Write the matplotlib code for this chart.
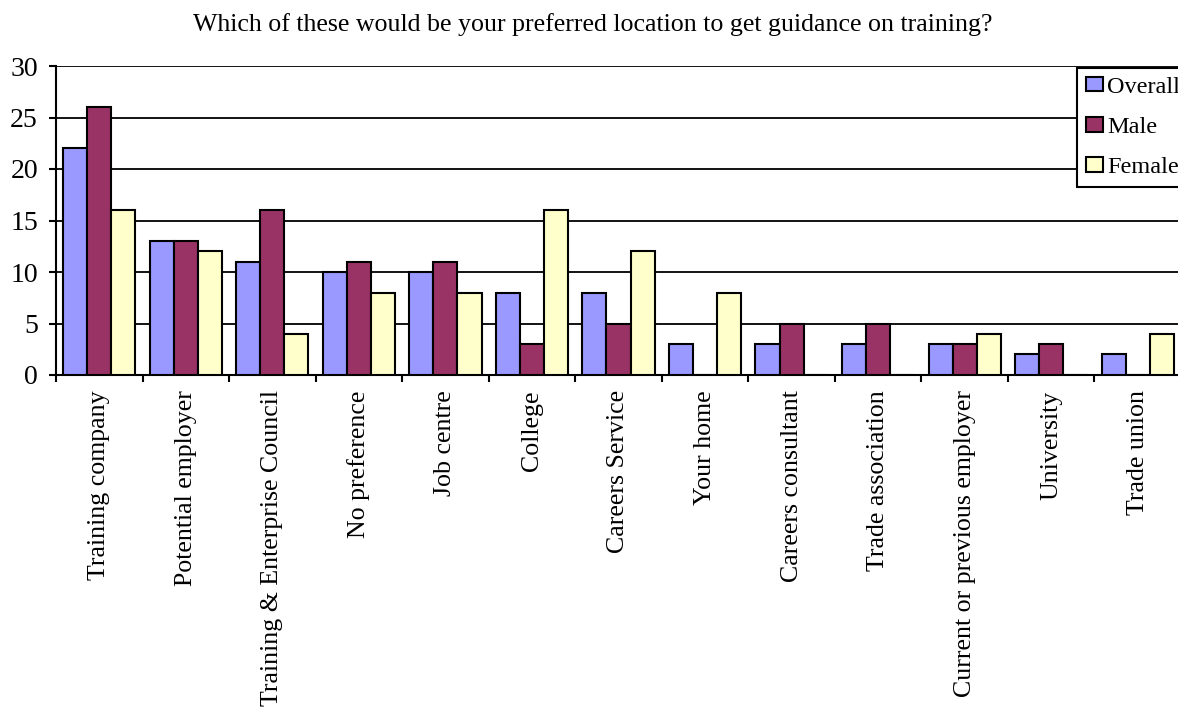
import numpy as np
import matplotlib.pyplot as plt

categories = ['Training company', 'Potential employer', 'Training & Enterprise Council',
              'No preference', 'Job centre', 'College', 'Careers Service', 'Your home',
              'Careers consultant', 'Trade association', 'Current or previous employer',
              'University', 'Trade union']
overall = [22, 13, 11, 10, 10, 8, 8, 3, 3, 3, 3, 2, 2]
male = [26, 13, 16, 11, 11, 3, 5, 0, 5, 5, 3, 3, 0]
female = [16, 12, 4, 8, 8, 16, 12, 8, 0, 0, 4, 0, 4]

plt.rcParams['font.family'] = 'Liberation Serif'
fs = 18.6

fig = plt.figure(figsize=(11.78, 7.08), dpi=100)
ax = fig.add_axes([56/1178, 1-375/708, 1125/1178, 309/708])

x = np.arange(len(categories))
w = 0.278
series = [('Overall', overall, '#9999FF'), ('Male', male, '#993366'), ('Female', female, '#FFFFCC')]
for i, (name, vals, col) in enumerate(series):
    ax.bar(x + (i - 1) * w, vals, w, color=col, edgecolor='black', linewidth=1.5, label=name, zorder=3)

ax.set_ylim(0, 30)
ax.set_xlim(-0.5, len(categories) - 0.5)
ax.set_yticks(range(0, 31, 5))
ax.yaxis.grid(True, color='black', linewidth=1.3, zorder=0)
ax.tick_params(axis='y', labelsize=20, length=5, width=1.5, direction='out', pad=8)

ax.set_xticks(x)
ax.set_xticklabels(categories, rotation=90, fontsize=fs)
ax.tick_params(axis='x', which='major', length=0, pad=11)
ax.set_xticks(x - 0.5, minor=True)
ax.tick_params(axis='x', which='minor', length=5, width=1.5, direction='out')

for s in ['right', 'top']:
    ax.spines[s].set_visible(False)
ax.spines['left'].set_linewidth(1.5)
ax.spines['bottom'].set_linewidth(1.5)

fig.text(593/1178, 1-25/708, 'Which of these would be your preferred location to get guidance on training?',
         ha='center', va='center', fontsize=fs)

# legend box runs off the right edge, text kept inside
leg = ax.legend(loc='upper left', bbox_to_anchor=(1077/1178, 1-68/708),
                bbox_transform=fig.transFigure, fontsize=17.5, frameon=True, fancybox=False,
                handlelength=0.7, handleheight=0.55, handletextpad=0.2, borderpad=0.35,
                borderaxespad=0, labelspacing=0.8)
leg.get_frame().set_edgecolor('black')
leg.get_frame().set_linewidth(1.5)
leg.get_frame().set_alpha(1)
leg.set_zorder(5)

fig.savefig('out.png', dpi=100)
